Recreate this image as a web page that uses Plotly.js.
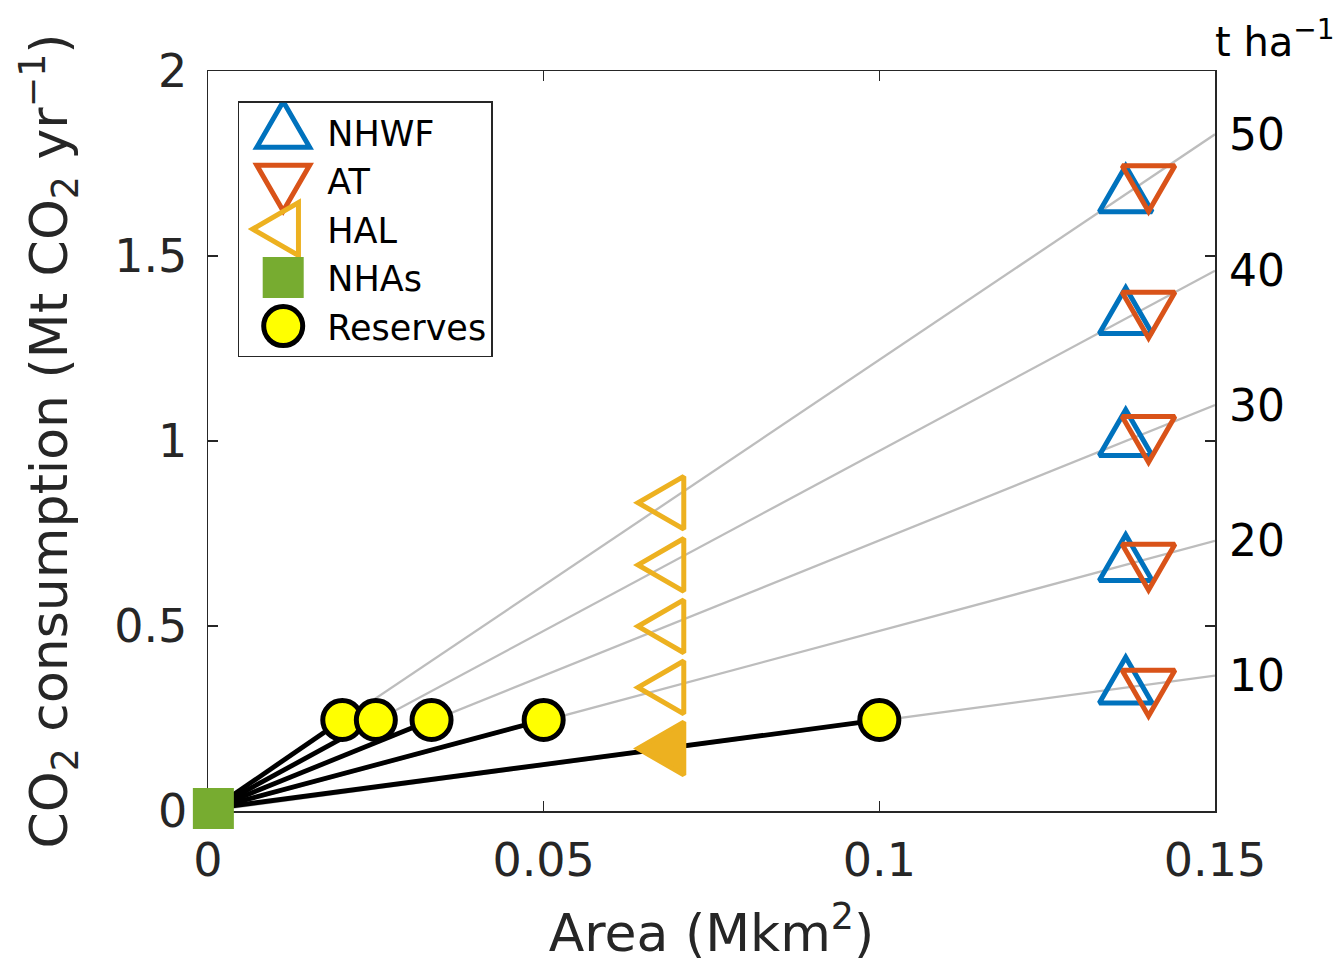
<!DOCTYPE html>
<html>
<head>
<meta charset="utf-8">
<script src="https://cdn.plot.ly/plotly-3.0.1.min.js"></script>
<style>
  html, body { margin: 0; padding: 0; background: #ffffff; }
  #chart { width: 1344px; height: 963px; }
</style>
</head>
<body>
<div id="chart"></div>
<script>
// ---- data ----
const rates = [10, 20, 30, 40, 50];                 // t ha^-1 (right-hand labels)
const lineEndArea = 0.15;                            // gray rate lines end at right edge
const lineEndCO2 = [0.366, 0.730, 1.097, 1.460, 1.829];

const nhwfArea = [0.1367, 0.1367, 0.1367, 0.1367, 0.1367];
const nhwfCO2  = [0.333, 0.664, 1.002, 1.332, 1.661];

const atArea = [0.1401, 0.1401, 0.1401, 0.1401, 0.1401];
const atCO2  = [0.339, 0.680, 1.025, 1.361, 1.703];

const halArea = [0.0686, 0.0686, 0.0686, 0.0686, 0.0686];
const halCO2  = [0.169, 0.334, 0.499, 0.665, 0.833];   // first one (10 t/ha) is filled

const nhaArea = [0.0008];
const nhaCO2  = [0.007];

const reserveArea = [0.02, 0.025, 0.0333, 0.05, 0.1];
const reserveCO2  = [0.246, 0.246, 0.246, 0.246, 0.246];

const xTickVals = [0, 0.05, 0.1, 0.15];
const xTickText = ['0', '0.05', '0.1', '0.15'];
const yTickVals = [0, 0.5, 1, 1.5, 2];
const yTickText = ['0', '0.5', '1', '1.5', '2'];

// ---- styles ----
const FONT = 'DejaVu Sans, sans-serif';
const AX = '#262626';
const C_NHWF = '#0072bd', C_AT = '#d95319', C_HAL = '#edb120', C_NHA = '#77ac30';
const TRI = 61;
const TRI_LW = 5;

// ---- traces ----
const data = [];

// gray rate lines from origin
const gx = [], gy = [];
lineEndCO2.forEach(v => { gx.push(0, lineEndArea, null); gy.push(0, v, null); });
data.push({x: gx, y: gy, mode: 'lines', line: {color: '#bdbdbd', width: 2.3},
  showlegend: false, hoverinfo: 'skip'});

// black lines NHAs -> reserves
const bx = [], by = [];
reserveArea.forEach((a, i) => { bx.push(nhaArea[0], a, null); by.push(nhaCO2[0], reserveCO2[i], null); });
data.push({x: bx, y: by, mode: 'lines', line: {color: '#000000', width: 4.8},
  showlegend: false, hoverinfo: 'skip'});

data.push({name: 'NHWF', x: nhwfArea, y: nhwfCO2, mode: 'markers', cliponaxis: false,
  marker: {symbol: 'triangle-up', size: TRI, color: 'rgba(0,0,0,0)', line: {color: C_NHWF, width: TRI_LW}}});
data.push({name: 'AT', x: atArea, y: atCO2, mode: 'markers', cliponaxis: false,
  marker: {symbol: 'triangle-down', size: TRI, color: 'rgba(0,0,0,0)', line: {color: C_AT, width: TRI_LW}}});
data.push({name: 'HAL', x: halArea.slice(1), y: halCO2.slice(1), mode: 'markers', cliponaxis: false,
  marker: {symbol: 'triangle-left', size: TRI, color: 'rgba(0,0,0,0)', line: {color: C_HAL, width: TRI_LW}}});
data.push({name: 'HAL', x: halArea.slice(0, 1), y: halCO2.slice(0, 1), mode: 'markers', cliponaxis: false,
  showlegend: false,
  marker: {symbol: 'triangle-left', size: TRI, color: C_HAL, line: {color: C_HAL, width: TRI_LW}}});
data.push({name: 'NHAs', x: nhaArea, y: nhaCO2, mode: 'markers', cliponaxis: false,
  marker: {symbol: 'square', size: 41, color: C_NHA, line: {width: 0}}});
data.push({name: 'Reserves', x: reserveArea, y: reserveCO2, mode: 'markers', cliponaxis: false,
  marker: {symbol: 'circle', size: 39, color: '#ffff00', line: {color: '#000000', width: 5}}});

// right-hand rate labels at the end of each gray line
const annotations = rates.map((r, i) => ({
  x: lineEndArea, y: lineEndCO2[i], xref: 'x', yref: 'y',
  text: String(r), showarrow: false, xanchor: 'left', yanchor: 'middle', xshift: 12,
  font: {family: FONT, size: 44, color: '#000000'}
}));
annotations.push({
  xref: 'paper', yref: 'paper', x: 1.0, y: 1.0, xanchor: 'left', yanchor: 'bottom',
  xshift: -2, yshift: 4,
  text: 't ha<sup>\u22121</sup>', showarrow: false,
  font: {family: FONT, size: 40, color: '#000000'}
});

const axisCommon = {
  showgrid: false, zeroline: false, showline: true, linecolor: AX, linewidth: 1.5,
  mirror: 'ticks', ticks: 'inside', ticklen: 10, tickwidth: 1.5, tickcolor: AX,
  tickfont: {family: FONT, size: 46, color: AX}, layer: 'below traces'
};

const layout = {
  width: 1344, height: 963,
  margin: {l: 208, r: 129, t: 71, b: 152},
  paper_bgcolor: '#ffffff', plot_bgcolor: '#ffffff',
  font: {family: FONT, color: AX},
  showlegend: true,
  legend: {
    x: 0.0295, y: 0.959, xanchor: 'left', yanchor: 'top',
    bgcolor: '#ffffff', bordercolor: AX, borderwidth: 1.5,
    font: {family: FONT, size: 35, color: '#000000'},
    itemwidth: 78, tracegroupgap: 0
  },
  xaxis: Object.assign({}, axisCommon, {
    range: [0, 0.15], tickmode: 'array', tickvals: xTickVals, ticktext: xTickText,
    ticklabelstandoff: 8,
    title: {text: 'Area (Mkm<sup>2</sup>)', font: {family: FONT, size: 52, color: AX}, standoff: 30}
  }),
  yaxis: Object.assign({}, axisCommon, {
    range: [0, 2], tickmode: 'array', tickvals: yTickVals, ticktext: yTickText,
    ticklabelstandoff: 10,
    title: {text: 'CO<sub>2</sub> consumption (Mt CO<sub>2</sub> yr<sup>\u22121</sup>)',
            font: {family: FONT, size: 52, color: AX}, standoff: 30}
  }),
  annotations: annotations
};

const gd = document.getElementById('chart');
Plotly.newPlot(gd, data, layout, {staticPlot: true, displayModeBar: false}).then(function () {
  // MATLAB draws equilateral triangles; Plotly's are flatter, so adjust aspect
  function aspect(sym) {
    if (/triangle-(up|down)/.test(sym)) return [0.75, 1];
    if (/triangle-(left|right)/.test(sym)) return [1, 0.75];
    return [1, 1];
  }
  gd.querySelectorAll('.scatterlayer .trace').forEach(function (g) {
    const cd = g.__data__; const tr = cd && cd[0] && cd[0].trace;
    if (!tr || !tr.marker) return;
    const s = aspect(String(tr.marker.symbol));
    g.querySelectorAll('path.point').forEach(function (p) {
      p.setAttribute('transform', (p.getAttribute('transform') || '') + ' scale(' + s[0] + ',' + s[1] + ')');
      p.setAttribute('vector-effect', 'non-scaling-stroke');
    });
  });
  // legend markers at full size (Plotly caps them at 16px)
  gd.querySelectorAll('.legend .traces').forEach(function (g) {
    const cd = g.__data__; const tr = cd && cd[0] && cd[0].trace;
    if (!tr || !tr.marker) return;
    const k = tr.marker.size / 16;
    const s = aspect(String(tr.marker.symbol));
    g.querySelectorAll('path.scatterpts').forEach(function (p) {
      p.setAttribute('transform', (p.getAttribute('transform') || '') + ' scale(' + (s[0] * k) + ',' + (s[1] * k) + ')');
      p.setAttribute('vector-effect', 'non-scaling-stroke');
    });
  });
});
</script>
</body>
</html>
